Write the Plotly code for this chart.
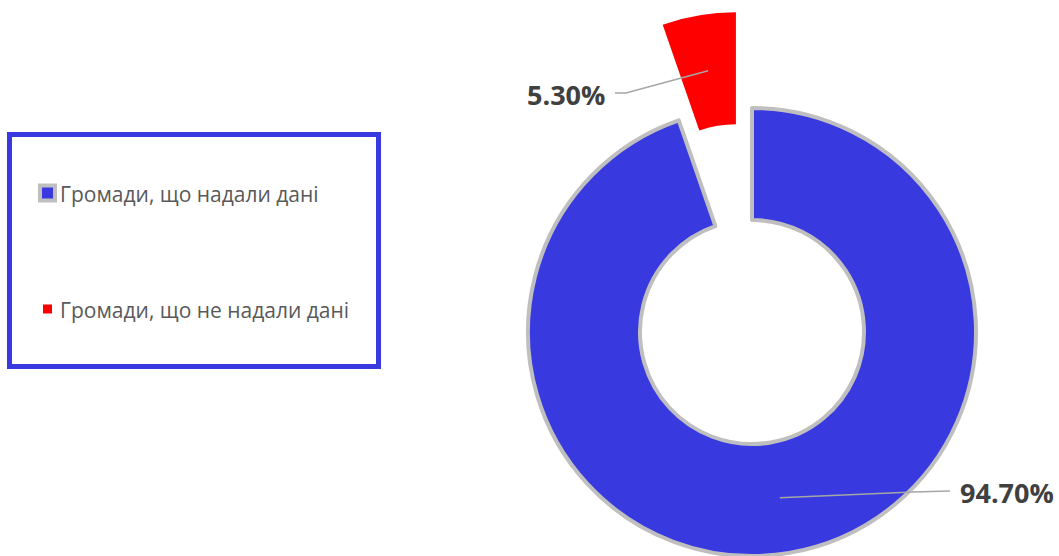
import math
import plotly.graph_objects as go

# ---------------- data ----------------
categories = ["Громади, що надали дані", "Громади, що не надали дані"]
values = [94.70, 5.30]
value_labels = ["94.70%", "5.30%"]
colors = ["#3939E0", "#FF0000"]
pulled = [False, True]

# ---------------- layout constants ----------------
W, H = 1059, 556
CX, CY, R = 752, 332, 224          # ring centre / radius in px
HOLE = 0.5
PULL_PX = 97                       # explode distance of pulled slice
BORDER = "#BFBFBF"
CLEAR = "rgba(0,0,0,0)"
TEXT = "#595959"
LABEL = "#404040"
LEADER = "#A6A6A6"
FONT = "Open Sans"


def X(px):
    return px / W


def Y(py):
    return 1 - py / H


def dom(cx, cy, r):
    return dict(x=[max(0, X(cx - r)), min(1, X(cx + r))],
                y=[max(0, Y(cy + r)), min(1, Y(cy - r))])


total = sum(values)
mids = []
acc = 0
for v in values:
    mids.append((acc + v / 2) / total * 360)  # clockwise from 12 o'clock
    acc += v


def direction(theta):
    t = math.radians(theta)
    return math.sin(t), -math.cos(t)


fig = go.Figure()

for i, (c, p) in enumerate(zip(colors, pulled)):
    if p:
        dx, dy = direction(mids[i])
        cx, cy = CX + dx * PULL_PX, CY + dy * PULL_PX
    else:
        cx, cy = CX, CY
    fill = [colors[j] if j == i else CLEAR for j in range(len(values))]
    lw = [0 if (j != i or pulled[j]) else 4 for j in range(len(values))]
    lc = [BORDER if j == i else CLEAR for j in range(len(values))]
    fig.add_trace(go.Pie(
        labels=categories, values=values, sort=False, direction="clockwise",
        rotation=0, hole=HOLE, textinfo="none", hoverinfo="label+percent",
        showlegend=False, domain=dom(cx, cy, R),
        marker=dict(colors=fill, line=dict(color=lc, width=lw)),
    ))

# ---------------- data labels with leader lines ----------------
label_layout = [
    # elbow point, end point, text x, anchor
    dict(elbow=(913, 492), end=(950, 491), tx=958, ty=492, anchor="left"),
    dict(elbow=(626, 93), end=(615, 93), tx=607, ty=94, anchor="right"),
]
shapes = []
annotations = []
rm = R * (1 + HOLE) / 2
for i, lay in enumerate(label_layout):
    dx, dy = direction(mids[i])
    cx, cy = CX, CY
    if pulled[i]:
        cx, cy = CX + dx * PULL_PX, CY + dy * PULL_PX
    ax, ay = cx + dx * rm, cy + dy * rm
    ex, ey = lay["elbow"]
    fx, fy = lay["end"]
    shapes.append(dict(
        type="path", xref="paper", yref="paper",
        path=f"M {X(ax)},{Y(ay)} L {X(ex)},{Y(ey)} L {X(fx)},{Y(fy)}",
        line=dict(color=LEADER, width=1.5)))
    annotations.append(dict(
        x=X(lay["tx"]), y=Y(lay["ty"]), xref="paper", yref="paper",
        text=value_labels[i], showarrow=False, xanchor=lay["anchor"],
        yanchor="middle",
        font=dict(family=FONT, size=27, color=LABEL, weight="bold")))

# ---------------- legend (boxed, Excel style) ----------------
shapes.append(dict(type="rect", xref="paper", yref="paper",
                   x0=X(9.5), x1=X(378.5), y0=Y(134.5), y1=Y(366.5),
                   line=dict(color=colors[0], width=5), fillcolor="white",
                   layer="below"))
legend_rows = [193, 309]
swatch = [dict(x0=40, x1=55, lw=4, lc=BORDER), dict(x0=43, x1=52, lw=0, lc=CLEAR)]
for i, (cat, yc) in enumerate(zip(categories, legend_rows)):
    s = swatch[i]
    half = (s["x1"] - s["x0"]) / 2
    shapes.append(dict(type="rect", xref="paper", yref="paper",
                       x0=X(s["x0"]), x1=X(s["x1"]),
                       y0=Y(yc + half), y1=Y(yc - half),
                       fillcolor=colors[i],
                       line=dict(color=s["lc"], width=s["lw"])))
    annotations.append(dict(
        x=X(58), y=Y(yc + 1), xref="paper", yref="paper", text=cat,
        showarrow=False, xanchor="left", yanchor="middle",
        font=dict(family=FONT, size=21, color=TEXT)))

fig.update_layout(
    width=W, height=H, margin=dict(l=0, r=0, t=0, b=0),
    paper_bgcolor="white", plot_bgcolor="white",
    shapes=shapes, annotations=annotations, showlegend=False,
)

fig.write_html(
    "out.html",
    config={"displayModeBar": False},
    post_script="document.body.style.margin='0';document.body.style.overflow='hidden';",
)
